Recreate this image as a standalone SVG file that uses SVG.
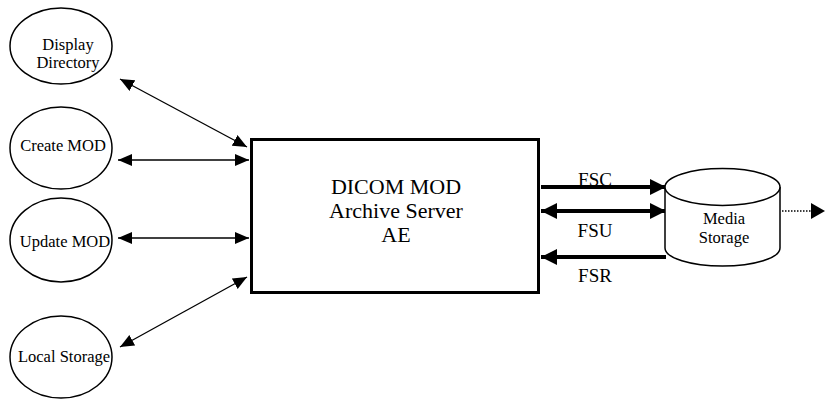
<svg xmlns="http://www.w3.org/2000/svg" width="825" height="403" viewBox="0 0 825 403">
<style>
.node{fill:#fff;stroke:#000;stroke-width:1.5}
.thin{stroke:#000;stroke-width:1.3;fill:none}
.thick{stroke:#000;stroke-width:4;fill:none}
</style>
<defs>
<marker id="ah" markerUnits="userSpaceOnUse" viewBox="0 0 14 12" refX="14" refY="6" markerWidth="14" markerHeight="12" orient="auto-start-reverse"><path d="M0,0L14,6L0,12Z" fill="#000"/></marker>
<marker id="ahb" markerUnits="userSpaceOnUse" viewBox="0 0 16 16" refX="16" refY="8" markerWidth="16" markerHeight="16" orient="auto-start-reverse"><path d="M0,0L16,8L0,16Z" fill="#000"/></marker>
</defs>
<rect width="825" height="403" fill="#fff"/>
<g font-family="'Liberation Serif', 'Times New Roman', 'DejaVu Serif', serif" text-anchor="middle" fill="#000">
<g id="connectors">
<line class="thin" x1="120" y1="79" x2="247" y2="147" marker-start="url(#ah)" marker-end="url(#ah)"/>
<line class="thin" x1="118" y1="160" x2="249" y2="160" marker-start="url(#ah)" marker-end="url(#ah)"/>
<line class="thin" x1="118" y1="238" x2="249" y2="238" marker-start="url(#ah)" marker-end="url(#ah)"/>
<line class="thin" x1="247" y1="277" x2="120" y2="347" marker-start="url(#ah)" marker-end="url(#ah)"/>
<line class="thick" x1="541" y1="187" x2="666" y2="187" marker-end="url(#ahb)"/>
<line class="thick" x1="541" y1="211" x2="666" y2="211" marker-start="url(#ahb)" marker-end="url(#ahb)"/>
<line class="thick" x1="666" y1="257" x2="541" y2="257" marker-end="url(#ahb)"/>
<line x1="782" y1="211" x2="812" y2="211" stroke="#000" stroke-width="1.3" stroke-dasharray="1.5,1.5"/>
<path d="M811,203L825,211L811,219Z" fill="#000"/>
<text font-size="19" x="595" y="186">FSC</text>
<text font-size="19" x="595" y="237">FSU</text>
<text font-size="19" x="595" y="282">FSR</text>
</g>
<g id="display-directory">
<ellipse class="node" cx="61" cy="46" rx="51" ry="38"/>
<text font-size="16.5" x="68" y="50">Display</text>
<text font-size="16.5" x="68" y="68">Directory</text>
</g>
<g id="create-mod">
<ellipse class="node" cx="61" cy="148" rx="51" ry="41"/>
<text font-size="16.5" x="63" y="151">Create MOD</text>
</g>
<g id="update-mod">
<ellipse class="node" cx="61" cy="240" rx="51" ry="42"/>
<text font-size="16.5" x="65" y="247">Update MOD</text>
</g>
<g id="local-storage">
<ellipse class="node" cx="61" cy="357" rx="51" ry="41"/>
<text font-size="16.5" x="64" y="362">Local Storage</text>
</g>
<g id="archive-server">
<rect x="251.5" y="139.5" width="287" height="153" fill="#fff" stroke="#000" stroke-width="3"/>
<text font-size="22" x="396" y="194">DICOM MOD</text>
<text font-size="22" x="396" y="218">Archive Server</text>
<text font-size="22" x="396" y="242">AE</text>
</g>
<g id="media-storage">
<path d="M665,187V248A57.5,18 0 0 0 780,248V187" fill="#fff" stroke="#000" stroke-width="1.5"/>
<ellipse cx="722.5" cy="187" rx="57.5" ry="18.5" fill="#fff" stroke="#000" stroke-width="1.5"/>
<text font-size="16.5" x="724" y="224">Media</text>
<text font-size="16.5" x="724" y="243">Storage</text>
</g>
</g>
</svg>
